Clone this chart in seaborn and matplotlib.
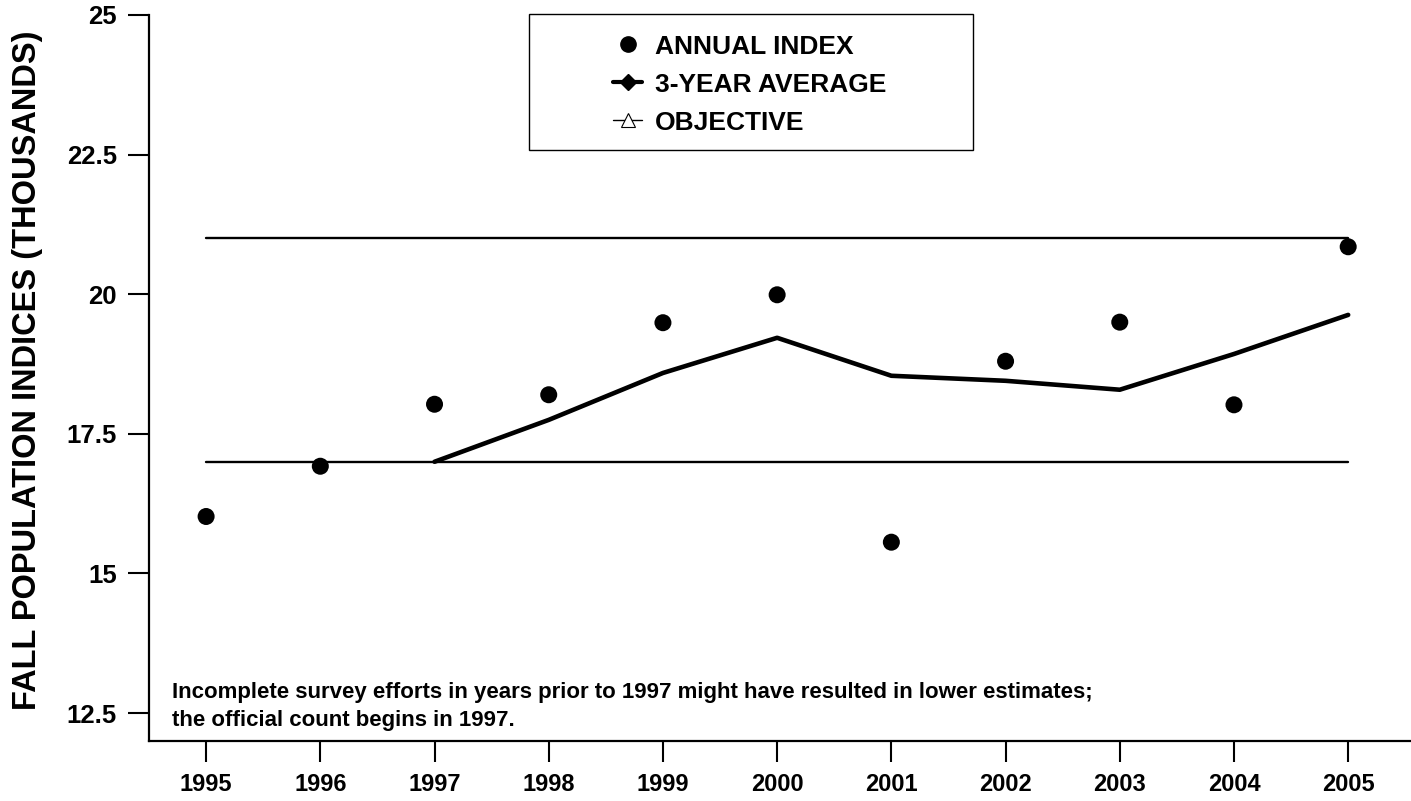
import numpy as np
import pandas as pd
import matplotlib
matplotlib.use("Agg")
import matplotlib.pyplot as plt
import seaborn as sns
from matplotlib.lines import Line2D
from matplotlib.patches import Rectangle

# ---- data ----
years = [1995, 1996, 1997, 1998, 1999, 2000, 2001, 2002, 2003, 2004, 2005]
annual_index = [16.02, 16.92, 18.03, 18.20, 19.49, 19.99, 15.56, 18.80, 19.50, 18.02, 20.85]
avg_years = [1997, 1998, 1999, 2000, 2001, 2002, 2003, 2004, 2005]
three_year_avg = [17.00, 17.75, 18.59, 19.22, 18.54, 18.45, 18.29, 18.93, 19.63]
objective_years = [1995, 2005]
objective_upper = [21.0, 21.0]
objective_lower = [17.0, 17.0]
y_ticks = [12.5, 15, 17.5, 20, 22.5, 25]
y_tick_labels = ["12.5", "15", "17.5", "20", "22.5", "25"]
legend_labels = ["ANNUAL INDEX", "3-YEAR AVERAGE", "OBJECTIVE"]
note = ("Incomplete survey efforts in years prior to 1997 might have resulted in lower estimates;\n"
        "the official count begins in 1997.")
y_label = "FALL POPULATION INDICES (THOUSANDS)"

sns.set_style("ticks")
plt.rcParams["font.family"] = ["Liberation Sans", "DejaVu Sans"]
plt.rcParams["font.weight"] = "bold"
plt.rcParams["text.color"] = "black"
plt.rcParams["axes.labelcolor"] = "black"
plt.rcParams["xtick.color"] = "black"
plt.rcParams["ytick.color"] = "black"

W, H = 1411, 801
fig = plt.figure(figsize=(W / 100, H / 100), dpi=100)
ax = fig.add_axes([149 / W, 60 / H, 1262 / W, 726 / H])

df_idx = pd.DataFrame({"year": years, "value": annual_index})
df_avg = pd.DataFrame({"year": avg_years, "value": three_year_avg})
df_obj = pd.DataFrame({
    "year": objective_years + objective_years,
    "value": objective_upper + objective_lower,
    "level": ["upper"] * len(objective_years) + ["lower"] * len(objective_years),
})

sns.lineplot(data=df_obj, x="year", y="value", units="level", estimator=None,
             color="black", linewidth=1.7, ax=ax, legend=False)
sns.lineplot(data=df_avg, x="year", y="value", color="black", linewidth=3.3,
             ax=ax, legend=False, solid_capstyle="round", solid_joinstyle="round")
sns.scatterplot(data=df_idx, x="year", y="value", color="black", s=150,
                edgecolor="none", ax=ax, legend=False, zorder=4)

ax.set_xlim(1994.5, 2005.55)
ax.set_ylim(12, 25)
ax.set_xticks(years)
ax.set_xticklabels([str(y) for y in years])
ax.set_yticks(y_ticks)
ax.set_yticklabels(y_tick_labels)
ax.set_xlabel("")
ax.set_ylabel("")

for s in ["top", "right"]:
    ax.spines[s].set_visible(False)
for s in ["left", "bottom"]:
    ax.spines[s].set_linewidth(1.6)
    ax.spines[s].set_color("black")
ax.tick_params(axis="both", direction="out", length=15, width=1.5, color="black",
               pad=8, labelcolor="black")
ax.tick_params(axis="y", labelsize=18.5)
ax.tick_params(axis="x", labelsize=17)
for lbl in ax.get_xticklabels() + ax.get_yticklabels():
    lbl.set_fontweight("bold")

# y-axis title
fig.text(27.5 / W, 1 - 370 / H, y_label, rotation=90, ha="center", va="center",
         fontsize=23.5, fontweight="bold", color="black")

# legend
handles = [
    Line2D([], [], marker="o", linestyle="none", color="black", markersize=11),
    Line2D([], [], marker="D", color="black", linewidth=3, markersize=8),
    Line2D([], [], marker="^", color="black", linewidth=1.0, markerfacecolor="white",
           markeredgecolor="black", markersize=10, markeredgewidth=0.8),
]
ax.legend(handles, legend_labels, loc="upper left", bbox_to_anchor=(0.3677, 0.973),
          frameon=False, prop={"size": 19, "weight": "bold"}, handlelength=1.1,
          handletextpad=0.5, labelspacing=0.53, borderpad=0, borderaxespad=0)
ax.add_patch(Rectangle((0.301, 0.814), 0.352, 0.187, transform=ax.transAxes,
                       fill=False, lw=1.0, edgecolor="black", clip_on=False))

ax.text(0.018, 0.048, note, transform=ax.transAxes, fontsize=16, fontweight="bold",
        ha="left", va="center", linespacing=1.45, color="black")

fig.savefig("out.png", dpi=100)
